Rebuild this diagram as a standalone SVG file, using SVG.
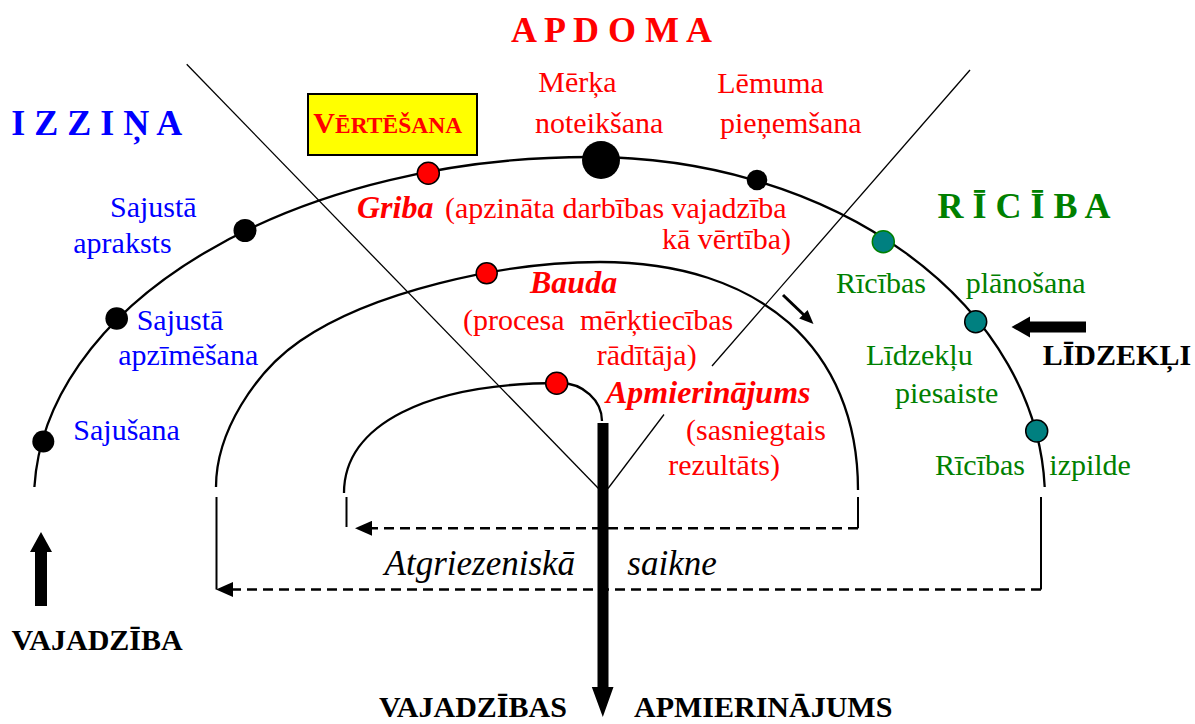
<svg xmlns="http://www.w3.org/2000/svg" width="1195" height="724" viewBox="0 0 1195 724">
<style>
text{font-family:"Liberation Serif","Times New Roman",serif}
.r{fill:#FF0000;font-size:30px}
.b{fill:#0000FF;font-size:30px}
.g{fill:#008000;font-size:30px}
.h{font-weight:bold;font-size:36px;text-anchor:middle}
.bi{font-weight:bold;font-style:italic;font-size:32px;fill:#FF0000}
.k{font-weight:bold;font-size:30px;fill:#000}
.it{font-style:italic;font-size:35px;fill:#000}
.arc{fill:none;stroke:#000;stroke-width:2.3}
.thin{stroke:#000;stroke-width:1.3;fill:none}
.dash{stroke:#000;stroke-width:2.5;stroke-dasharray:10 6;fill:none}
.vl{stroke:#000;stroke-width:2;fill:none}
.dk{fill:#000}
.dr{fill:#FF0000;stroke:#000;stroke-width:1.5}
.dt{fill:#008080;stroke:#000;stroke-width:1.5}
</style>
<defs>
<marker id="ah" viewBox="0 0 17 15" refX="0" refY="7.5" markerWidth="17" markerHeight="15" markerUnits="userSpaceOnUse" orient="auto"><path d="M0,0 L17,7.5 L0,15 z" fill="#000"/></marker>
</defs>
<rect width="1195" height="724" fill="#fff"/>

<g id="headings">
<text class="h" x="611.5" y="41.7" fill="#FF0000">A P D O M A</text>
<text class="h" x="96.7" y="135" fill="#0000FF">I Z Z I Ņ A</text>
<text class="h" x="1024" y="217.7" fill="#008000">R Ī C Ī B A</text>
</g>

<g id="arcs">
<path class="arc" d="M34.4,487 A556,343 0 0 1 590,157 A455,343 0 0 1 1044.7,487"/>
<path class="arc" d="M216,487 C216,432 255,372 300,341 C370,292.7 500,262 600,262 C760,262 858,348.6 858,490"/>
<path class="arc" d="M344,493 C344,424.8 426,383 560,383 C583,383 602,400.5 602,421"/>
</g>

<g id="connectors">
<line class="thin" x1="186.7" y1="64.3" x2="598.5" y2="488.5"/>
<line class="thin" x1="970" y1="70" x2="712" y2="366"/>
<line class="thin" x1="664" y1="414.5" x2="608" y2="488.5"/>
<line class="vl" x1="858" y1="497" x2="858" y2="528.3"/>
<path class="dash" d="M858,528.3 H372" marker-end="url(#ah)"/>
<line class="vl" x1="346.5" y1="497" x2="346.5" y2="527"/>
<line class="vl" x1="1041" y1="497" x2="1041" y2="589.5"/>
<path class="dash" d="M1041,589.5 H233" marker-end="url(#ah)"/>
<line class="vl" x1="216.5" y1="497" x2="216.5" y2="589.5"/>
<polygon class="dk" points="597.5,423 608.5,423 608.5,687 613.5,687 602.8,717 591.8,687 597.5,687"/>
<polygon class="dk" points="35,606 47,606 47,552 52,552 41,532 30,552 35,552"/>
<polygon class="dk" points="1086,321.5 1086,332.5 1030,332.5 1030,337.5 1011.5,327 1030,316.5 1030,321.5"/>
<line x1="783" y1="295" x2="805" y2="316" stroke="#000" stroke-width="3"/>
<polygon class="dk" points="813.5,324 799.2,318.6 807.6,310"/>
</g>

<g id="vertesana">
<rect x="308" y="94" width="169" height="61" fill="#FFFF00" stroke="#000" stroke-width="2"/>
<text x="313.3" y="133.3" font-weight="bold" fill="#FF0000"><tspan font-size="30">V</tspan><tspan font-size="23.5">ĒRTĒŠANA</tspan></text>
</g>

<g id="n-sajusana"><circle class="dk" cx="43.3" cy="441.5" r="11"/><text class="b" x="73.3" y="440">Sajušana</text></g>
<g id="n-apzimesana"><circle class="dk" cx="116.7" cy="318.5" r="11.3"/><text class="b" x="136.7" y="330">Sajustā</text><text class="b" x="118.3" y="365">apzīmēšana</text></g>
<g id="n-apraksts"><circle class="dk" cx="245" cy="230.5" r="11.5"/><text class="b" x="110" y="216.7">Sajustā</text><text class="b" x="73.3" y="253">apraksts</text></g>
<g id="n-griba"><circle class="dr" cx="428.3" cy="173.3" r="11"/><text x="357" y="218"><tspan class="bi">Griba</tspan><tspan class="r" x="445">(apzināta darbības vajadzība</tspan></text><text class="r" x="791" y="249" text-anchor="end">kā vērtība)</text></g>
<g id="n-merka"><circle class="dk" cx="601" cy="160" r="19"/><text class="r" x="538.3" y="92">Mērķa</text><text class="r" x="535" y="133">noteikšana</text></g>
<g id="n-lemuma"><circle class="dk" cx="757" cy="180" r="10.3"/><text class="r" x="717.3" y="93.3">Lēmuma</text><text class="r" x="720" y="133.3">pieņemšana</text></g>
<g id="n-planosana"><circle cx="883.3" cy="241.7" r="11" fill="#008080" stroke="#008000" stroke-width="1.5"/><text class="g" x="836" y="293.3">Rīcības</text><text class="g" x="965.7" y="293.3">plānošana</text></g>
<g id="n-piesaiste"><circle class="dt" cx="975.7" cy="321.7" r="11"/><text class="g" x="866" y="365">Līdzekļu</text><text class="g" x="895" y="403">piesaiste</text></g>
<g id="n-izpilde"><circle class="dt" cx="1036.7" cy="431" r="11"/><text class="g" x="935" y="475">Rīcības</text><text class="g" x="1049.3" y="475">izpilde</text></g>
<g id="n-bauda"><circle class="dr" cx="486.7" cy="273.3" r="10.5"/><text class="bi" x="530" y="293.3">Bauda</text><text class="r" x="463" y="330">(procesa</text><text class="r" x="580" y="330">mērķtiecības</text><text class="r" x="596.7" y="365">rādītāja)</text></g>
<g id="n-apmierinajums"><circle class="dr" cx="556.7" cy="383.3" r="11"/><text class="bi" x="606" y="403.3">Apmierinājums</text><text class="r" x="686" y="440">(sasniegtais</text><text class="r" x="668.3" y="475">rezultāts)</text></g>

<g id="labels">
<text class="it" x="384.6" y="575">Atgriezeniskā</text>
<text class="it" x="627.3" y="575">saikne</text>
<text class="k" x="11.5" y="650">VAJADZĪBA</text>
<text class="k" x="379" y="717">VAJADZĪBAS</text>
<text class="k" x="634" y="717">APMIERINĀJUMS</text>
<text class="k" x="1042.7" y="365">LĪDZEKĻI</text>
</g>
</svg>
